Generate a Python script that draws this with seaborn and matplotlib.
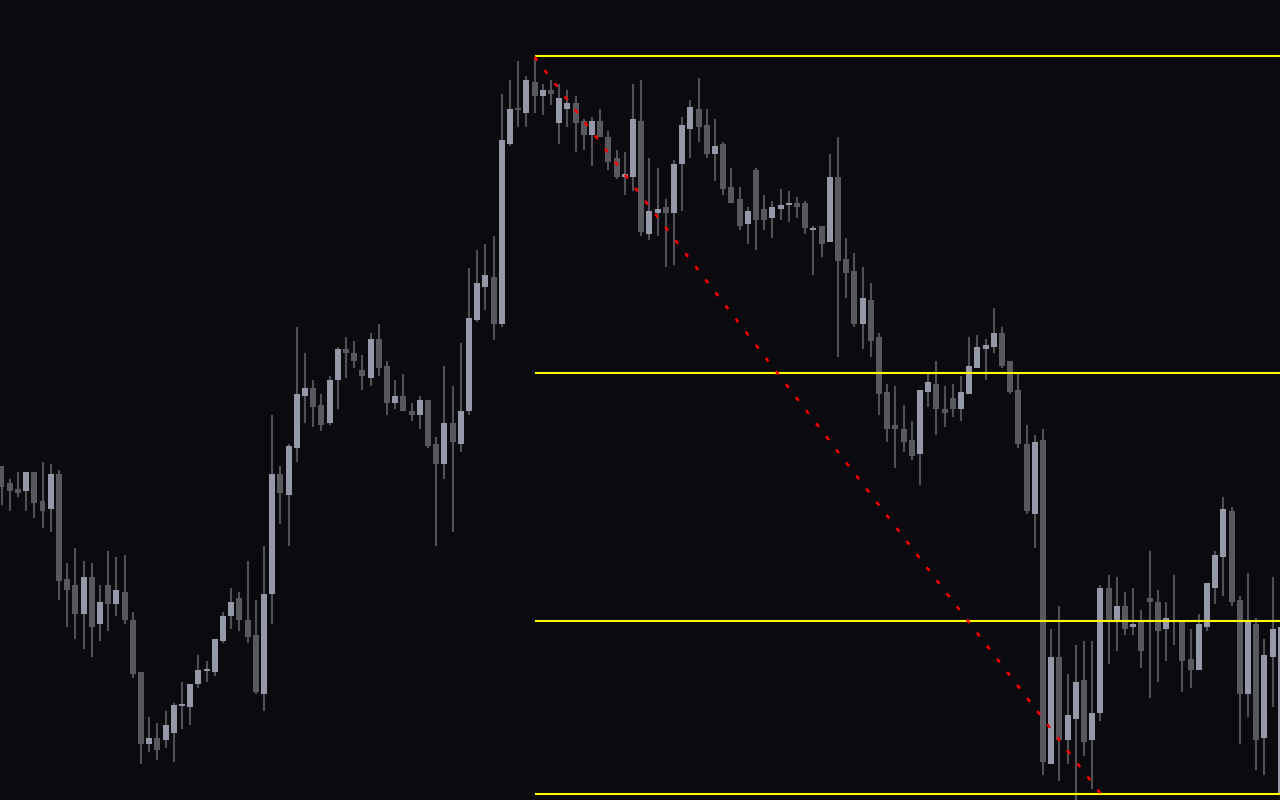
import numpy as np
import matplotlib
matplotlib.use("Agg")
import matplotlib.pyplot as plt
import seaborn as sns

# candle data (price units), one bar per session
opens = [334, 317, 311, 309, 328, 299, 291, 326, 221, 215, 186, 223, 176, 215, 196, 208,
         180, 128, 56, 62, 60, 67, 94, 93, 116, 129, 128, 159, 184, 202, 180, 165,
         106, 206, 326, 305, 352, 404, 412, 395, 377, 420, 451, 447, 430, 422, 461, 434,
         397, 404, 389, 385, 400, 356, 336, 377, 356, 389, 480, 513, 523, 476, 656, 691,
         687, 718, 704, 710, 677, 691, 697, 679, 665, 679, 663, 642, 623, 623, 679, 566,
         587, 593, 587, 636, 671, 691, 675, 646, 656, 613, 601, 576, 630, 591, 582, 591,
         595, 597, 597, 570, 574, 558, 623, 541, 529, 476, 500, 463, 408, 375, 371, 360,
         346, 408, 416, 391, 402, 391, 406, 432, 451, 453, 467, 439, 410, 356, 286, 360,
         36, 143, 60, 81, 120, 60, 87, 212, 180, 194, 173, 178, 202, 198, 171, 179,
         178, 141, 130, 173, 212, 243, 289, 200, 106, 176, 62, 143, 5]
highs = [334, 321, 328, 328, 328, 338, 336, 330, 237, 252, 239, 237, 215, 249, 243, 245,
         188, 128, 83, 77, 89, 97, 118, 116, 145, 139, 161, 188, 212, 208, 239, 200,
         254, 385, 334, 356, 473, 447, 420, 406, 424, 453, 463, 459, 445, 467, 476, 439,
         420, 426, 397, 404, 400, 363, 434, 414, 457, 532, 550, 556, 564, 706, 720, 739,
         724, 743, 716, 720, 716, 710, 704, 681, 683, 691, 669, 650, 648, 716, 720, 642,
         632, 601, 640, 683, 700, 722, 691, 681, 658, 632, 613, 593, 632, 605, 599, 611,
         609, 603, 599, 574, 574, 646, 663, 562, 547, 533, 517, 467, 416, 414, 395, 379,
         410, 426, 439, 414, 416, 424, 463, 465, 461, 492, 473, 439, 426, 375, 365, 371,
         171, 194, 126, 155, 159, 159, 215, 225, 223, 208, 212, 190, 249, 210, 198, 225,
         178, 171, 186, 217, 249, 303, 293, 204, 227, 182, 161, 223, 180]
lows = [295, 289, 303, 289, 282, 272, 268, 200, 173, 161, 151, 143, 159, 169, 184, 176,
        122, 36, 48, 40, 52, 38, 71, 75, 112, 118, 124, 157, 171, 169, 157, 106,
        89, 176, 276, 254, 338, 377, 373, 369, 375, 391, 422, 432, 410, 414, 424, 385,
        391, 389, 379, 371, 352, 254, 321, 268, 348, 385, 478, 490, 460, 473, 654, 673,
        673, 687, 685, 695, 656, 673, 648, 650, 634, 663, 630, 621, 605, 609, 564, 560,
        564, 533, 535, 589, 642, 658, 642, 619, 605, 597, 570, 556, 550, 570, 562, 580,
        578, 582, 566, 525, 543, 558, 443, 502, 473, 451, 443, 385, 358, 332, 348, 340,
        315, 393, 365, 373, 383, 379, 406, 432, 420, 447, 432, 406, 352, 286, 252, 25,
        36, 19, 36, 0, 44, 11, 79, 136, 149, 165, 165, 132, 102, 118, 139, 155,
        108, 112, 130, 169, 196, 204, 194, 56, 83, 30, 25, 93, 0]
closes = [313, 309, 307, 328, 297, 289, 326, 219, 210, 186, 223, 173, 198, 196, 210, 180,
          126, 56, 62, 50, 75, 95, 95, 116, 130, 130, 161, 184, 198, 180, 163, 108,
          206, 326, 307, 354, 406, 412, 393, 375, 420, 451, 447, 439, 424, 461, 432, 397,
          404, 389, 385, 400, 354, 336, 377, 358, 389, 482, 517, 525, 476, 660, 691, 690,
          720, 704, 710, 706, 702, 697, 677, 665, 679, 663, 638, 623, 626, 681, 568, 589,
          591, 587, 636, 675, 693, 673, 646, 654, 611, 597, 574, 589, 580, 580, 593, 595,
          597, 593, 572, 572, 556, 623, 539, 527, 476, 502, 459, 406, 371, 371, 358, 344,
          410, 418, 391, 387, 391, 408, 434, 453, 455, 467, 434, 408, 356, 289, 358, 38,
          143, 60, 85, 118, 58, 87, 212, 180, 194, 171, 176, 149, 198, 169, 182, 179,
          139, 130, 176, 217, 245, 291, 198, 106, 178, 60, 145, 171, 173]

# horizontal levels and the falling trend line, both anchored on the top bar
level_prices = [744, 427, 179, 6]
level_start = 65
trend_x = [65, 135]
trend_y = [743, -4]

bg = "#0a0a0f"
up_col = "#9598a6"
down_col = "#58595e"
wick_col = "#505156"

sns.set_theme(style="dark", rc={"axes.facecolor": bg, "figure.facecolor": bg})

fig = plt.figure(figsize=(12.8, 8), dpi=100)
ax = fig.add_axes([0, 0, 1, 1])
ax.set_facecolor(bg)

o = np.array(opens, dtype=float)
h = np.array(highs, dtype=float)
l = np.array(lows, dtype=float)
c = np.array(closes, dtype=float)
idx = np.arange(len(o))
is_up = c > o
colors = np.where(is_up, up_col, down_col)

# wicks
ax.vlines(idx, l, h, color=wick_col, linewidth=1.5, zorder=2)

# bodies
body_h = np.abs(c - o)
body_h = np.where((body_h > 0) & (body_h < 2), 2, body_h)
ax.bar(idx, body_h, bottom=np.minimum(o, c), width=0.73, color=colors,
       linewidth=0, zorder=3)

# levels
ax.hlines(level_prices, level_start, len(o) + 2, color="#ffff00", linewidth=1.5, zorder=4)

# trend line
ax.plot(trend_x, trend_y, color="#ff0000", linewidth=1.8,
        linestyle=(0, (1.8, 4.8)), zorder=5)

ax.set_xlim(-0.183, 155.9)
ax.set_ylim(0, 800)
ax.axis("off")

fig.savefig("out.png", dpi=100, facecolor=bg)
